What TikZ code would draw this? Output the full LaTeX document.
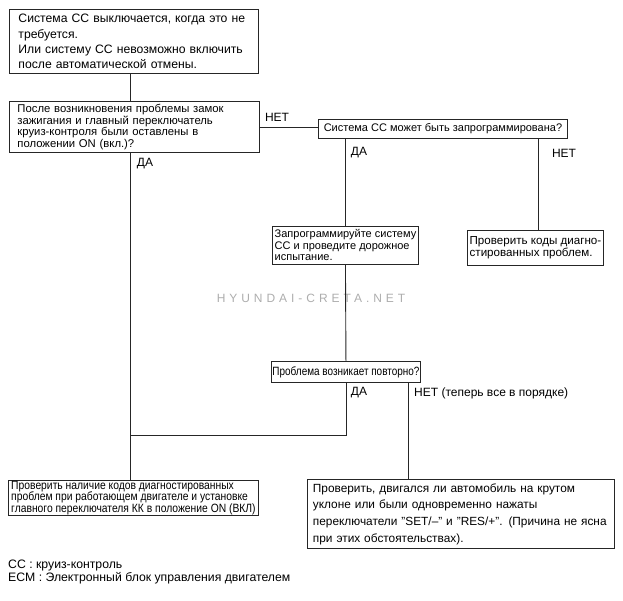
\documentclass[tikz,border=0pt]{standalone}
\usepackage{fontspec}
\setmainfont{Liberation Sans}
\newfontfamily\narrowfont[FakeStretch=0.83]{Liberation Sans}
\newfontfamily\widenarrowfont[FakeStretch=0.86]{Liberation Sans}
\usetikzlibrary{positioning}

\begin{document}
\begin{tikzpicture}[x=1pt,y=-1pt,
    box/.style={draw=black!85,line width=0.9pt,anchor=north west,align=left,inner xsep=1pt,inner ysep=0.5pt},
    wire/.style={draw=black!85,line width=0.9pt},
    lbl/.style={inner sep=0pt,font=\fontsize{12}{13}\selectfont}]
    \definecolor{mark}{rgb}{0.68,0.68,0.68}
    \useasboundingbox (0,0) rectangle (623,600);

    % watermark
    \node(wm) [text=mark,font=\fontsize{12}{12}\selectfont\addfontfeature{LetterSpace=33}] at (311,298) {HYUNDAI-CRETA.NET};

    % boxes
    \node(start) [box,inner xsep=9pt,text width=231pt,minimum height=64pt,font=\fontsize{12.2}{15.2}\selectfont] at (9,9)
      {Система СС выключается, когда это не\\ требуется.\\ Или систему СС невозможно включить\\ после автоматической отмены.};
    \node(switch) [box,inner xsep=8pt,text width=234pt,minimum height=51pt,font=\fontsize{11.3}{11.7}\selectfont] at (9,101)
      {После возникновения проблемы замок\\ зажигания и главный переключатель\\ круиз-контроля были оставлены в\\ положении ON (вкл.)?};
    \node(prog) [box,minimum width=249pt,minimum height=19pt,font=\fontsize{11}{12}\selectfont] at (318,119)
      {Система СС может быть запрограммирована?};
    \node(test) [box,minimum width=146pt,minimum height=38pt,font=\fontsize{11}{11.5}\selectfont] at (272,226)
      {Запрограммируйте систему\\ СС и проведите дорожное\\ испытание.};
    \node(codes) [box,minimum width=136pt,minimum height=35pt,font=\fontsize{11.6}{12.5}\selectfont] at (467,230)
      {Проверить коды диагно-\\ стированных проблем.};
    \node(again) [box,minimum width=148pt,minimum height=21pt,font=\narrowfont\fontsize{12}{12}\selectfont] at (271,361)
      {Проблема возникает повторно?};
    \node(ecm) [box,minimum width=250pt,minimum height=35pt,font=\widenarrowfont\fontsize{12}{11.4}\selectfont] at (8,480)
      {Проверить наличие кодов диагностированных\\ проблем при работающем двигателе и установке\\ главного переключателя КК в положение ON (ВКЛ)};
    \node(slope) [box,inner xsep=5.5pt,text width=296pt,minimum height=69pt,font=\fontsize{11.85}{16.7}\selectfont] at (307,479)
      {\mbox{Проверить, двигался ли автомобиль на крутом}\\ \mbox{уклоне или были одновременно нажаты}\\ \mbox{переключатели "SET/--" и "RES/+". (Причина не ясна}\\ \mbox{при этих обстоятельствах).}};

    % legend
    \node(legend) [anchor=north west,align=left,inner sep=0pt,font=\fontsize{12.25}{12.5}\selectfont] at (8,560)
      {CC : круиз-контроль\\ ECM : Электронный блок управления двигателем};

    % connectors
    \coordinate (trunk) at (130,435);
    \coordinate (right) at (538,0);
    \coordinate (ok) at (408,0);
    \draw[wire] (start.south -| trunk) -- (switch.north -| trunk);
    \draw[wire] (switch.south -| trunk) -- (ecm.north -| trunk);
    \draw[wire] (switch.east) -- (switch.east -| prog.west);
    \draw[wire] (prog.south -| test.north) -- (test.north);
    \draw[wire] (prog.south -| right) -- (codes.north -| right);
    \draw[wire] (test.south) -- (again.north);
    \draw[wire] (again.south) |- (trunk);
    \draw[wire] (again.south -| ok) -- (slope.north -| ok);

    % labels
    \node[lbl] (no1) at (277,117) {НЕТ};
    \node[lbl] (yes1) at (145,164) {ДА};
    \node[lbl] (yes2) at (359,153) {ДА};
    \node[lbl] (no2) at (564,153) {НЕТ};
    \node[lbl] (yes3) at (359,393) {ДА};
    \node[lbl,anchor=west] (no3) at (414,393) {НЕТ (теперь все в порядке)};
\end{tikzpicture}
\end{document}
